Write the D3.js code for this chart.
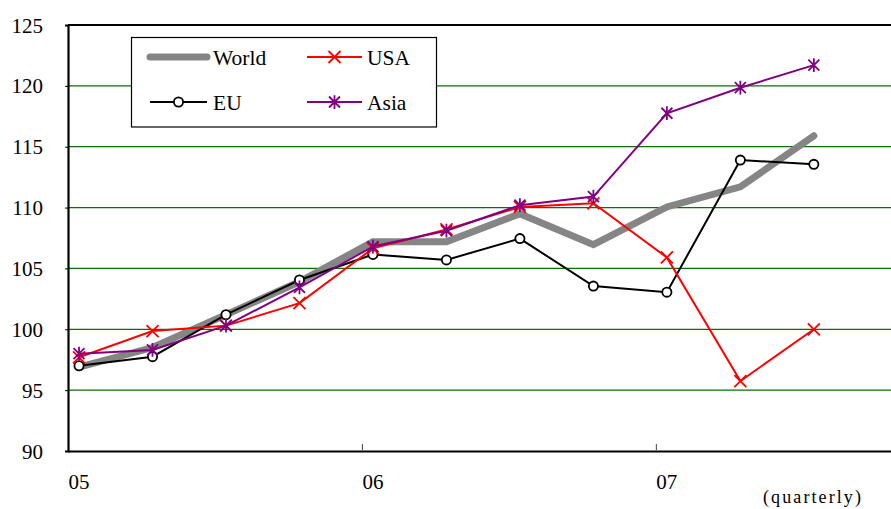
<!DOCTYPE html>
<html>
<head>
<meta charset="utf-8">
<script src="https://cdn.jsdelivr.net/npm/d3@7"></script>
<style>
  html, body { margin: 0; padding: 0; background: #fff; }
  svg { display: block; }
  text { font-family: "Liberation Serif", "Times New Roman", serif; fill: #000; }
</style>
</head>
<body>
<svg id="chart" width="891" height="509"></svg>
<script>
// Quarterly index values, 2005 Q1 – 2007 Q3
const quarters = [0, 1, 2, 3, 4, 5, 6, 7, 8, 9, 10];
const world = [96.9, 98.5, 101.2, 103.9, 107.2, 107.2, 109.5, 106.95, 110.05, 111.7, 115.9];
const eu    = [97.0, 97.75, 101.2, 104.05, 106.15, 105.7, 107.45, 103.55, 103.05, 113.9, 113.55];
const usa   = [97.7, 99.85, 100.3, 102.15, 106.65, 108.2, 110.05, 110.35, 105.9, 95.75, 100.0];
const asia  = [98.0, 98.3, 100.3, 103.45, 106.8, 108.1, 110.2, 110.9, 117.75, 119.85, 121.7];
const yTicks = [90, 95, 100, 105, 110, 115, 120, 125];
const yearTicks = [0, 4, 8];
const yearLabels = ["05", "06", "07"];
const seriesNames = ["World", "USA", "EU", "Asia"];

(function () {
const svg = d3.select("#chart");
const plotLeft = 68, plotTop = 25, plotBottom = 451, plotRight = 891;
const pointOffset = 0.15; // observation sits just after the start of its quarter

const x = d3.scaleLinear().domain([0, 11.2]).range([plotLeft, plotRight]);
const y = d3.scaleLinear().domain([90, 125]).range([plotBottom, plotTop]);

// horizontal grid
svg.append("g")
  .selectAll("line")
  .data(yTicks.filter(v => v > 90 && v < 125))
  .join("line")
  .attr("x1", plotLeft).attr("x2", plotRight)
  .attr("y1", d => y(d)).attr("y2", d => y(d))
  .attr("stroke", "#0a6e0a").attr("stroke-width", 1.2);

// top frame line
svg.append("line")
  .attr("x1", plotLeft).attr("x2", plotRight)
  .attr("y1", y(125)).attr("y2", y(125))
  .attr("stroke", "#000").attr("stroke-width", 2);

// y axis
const yAxis = d3.axisLeft(y).tickValues(yTicks).tickSize(3).tickPadding(22).tickFormat(d3.format("d"));
const gy = svg.append("g").attr("transform", `translate(${plotLeft},0)`).call(yAxis);
gy.select(".domain").attr("stroke", "#000").attr("stroke-width", 2.2);
gy.selectAll(".tick line").attr("stroke", "#000").attr("stroke-width", 1);
gy.selectAll(".tick text")
  .attr("font-family", "Liberation Serif, serif")
  .attr("font-size", 21)
  .attr("text-anchor", "end")
  .attr("x", 43 - plotLeft)
  .attr("dy", "0.34em");

// x axis
const xAxis = d3.axisBottom(x).tickValues(yearTicks).tickSize(0).tickFormat((d, i) => yearLabels[i]);
const gx = svg.append("g").attr("transform", `translate(0,${plotBottom})`).call(xAxis);
gx.select(".domain").attr("stroke", "#000").attr("stroke-width", 2.2);
gx.selectAll(".tick text")
  .attr("font-family", "Liberation Serif, serif")
  .attr("font-size", 21)
  .attr("text-anchor", "start")
  .attr("y", 38)
  .attr("dy", 0);
gx.selectAll(".tick").filter(d => d > 0)
  .append("line")
  .attr("y1", -1).attr("y2", -7)
  .attr("stroke", "#444").attr("stroke-width", 1);

svg.append("text")
  .attr("x", 763).attr("y", 503)
  .attr("font-size", 18)
  .attr("letter-spacing", 2.1)
  .text("(quarterly)");

// series
const line = d3.line().x((d, i) => x(quarters[i] + pointOffset)).y(d => y(d));

function crossPath(s) { return `M${-s},${-s}L${s},${s}M${-s},${s}L${s},${-s}`; }
function starPath(s) { return `M${-s},${-s}L${s},${s}M${-s},${s}L${s},${-s}M0,${-s * 1.25}L0,${s * 1.25}`; }

// World
svg.append("path").datum(world)
  .attr("d", line).attr("fill", "none")
  .attr("stroke", "#858585").attr("stroke-width", 7)
  .attr("stroke-linejoin", "miter").attr("stroke-linecap", "round");

// EU
svg.append("path").datum(eu)
  .attr("d", line).attr("fill", "none")
  .attr("stroke", "#000").attr("stroke-width", 2);
svg.append("g").selectAll("circle").data(eu).join("circle")
  .attr("cx", (d, i) => x(quarters[i] + pointOffset)).attr("cy", d => y(d))
  .attr("r", 4.6).attr("fill", "#fff").attr("stroke", "#000").attr("stroke-width", 1.8);

// USA
svg.append("path").datum(usa)
  .attr("d", line).attr("fill", "none")
  .attr("stroke", "#ff0000").attr("stroke-width", 2);
svg.append("g").selectAll("path").data(usa).join("path")
  .attr("transform", (d, i) => `translate(${x(quarters[i] + pointOffset)},${y(d)})`)
  .attr("d", crossPath(6)).attr("stroke", "#ff0000").attr("stroke-width", 1.8).attr("fill", "none");

// Asia
svg.append("path").datum(asia)
  .attr("d", line).attr("fill", "none")
  .attr("stroke", "#800080").attr("stroke-width", 2);
svg.append("g").selectAll("path").data(asia).join("path")
  .attr("transform", (d, i) => `translate(${x(quarters[i] + pointOffset)},${y(d)})`)
  .attr("d", starPath(5.5)).attr("stroke", "#800080").attr("stroke-width", 1.8).attr("fill", "none");

// legend
const lg = svg.append("g");
lg.append("rect")
  .attr("x", 131.5).attr("y", 37.5).attr("width", 305).attr("height", 89.5)
  .attr("fill", "#fff").attr("stroke", "#000").attr("stroke-width", 1.2);

const legendItems = [
  { name: seriesNames[0], col: 0, row: 0 },
  { name: seriesNames[1], col: 1, row: 0 },
  { name: seriesNames[2], col: 0, row: 1 },
  { name: seriesNames[3], col: 1, row: 1 }
];
const colX = [150, 307], rowY = [57, 102];
legendItems.forEach(it => {
  const x0 = colX[it.col], yy = rowY[it.row], x1 = x0 + 57, mid = (x0 + x1) / 2;
  const g = lg.append("g");
  if (it.name === "World") {
    g.append("line").attr("x1", x0).attr("x2", x1).attr("y1", yy).attr("y2", yy)
      .attr("stroke", "#858585").attr("stroke-width", 7).attr("stroke-linecap", "round");
  } else if (it.name === "EU") {
    g.append("line").attr("x1", x0).attr("x2", x1).attr("y1", yy).attr("y2", yy)
      .attr("stroke", "#000").attr("stroke-width", 2);
    g.append("circle").attr("cx", mid).attr("cy", yy).attr("r", 4.6)
      .attr("fill", "#fff").attr("stroke", "#000").attr("stroke-width", 1.8);
  } else if (it.name === "USA") {
    g.append("line").attr("x1", x0).attr("x2", x0 + 55).attr("y1", yy).attr("y2", yy)
      .attr("stroke", "#ff0000").attr("stroke-width", 2);
    g.append("path").attr("transform", `translate(${x0 + 27.5},${yy})`)
      .attr("d", crossPath(6)).attr("stroke", "#ff0000").attr("stroke-width", 1.8);
  } else {
    g.append("line").attr("x1", x0).attr("x2", x0 + 55).attr("y1", yy).attr("y2", yy)
      .attr("stroke", "#800080").attr("stroke-width", 2);
    g.append("path").attr("transform", `translate(${x0 + 27.5},${yy})`)
      .attr("d", starPath(5.5)).attr("stroke", "#800080").attr("stroke-width", 1.8);
  }
  g.append("text")
    .attr("x", it.col === 0 ? x0 + 63 : x0 + 60)
    .attr("y", yy + 8)
    .attr("font-size", 21.5)
    .text(it.name);
});
})();
</script>
</body>
</html>
